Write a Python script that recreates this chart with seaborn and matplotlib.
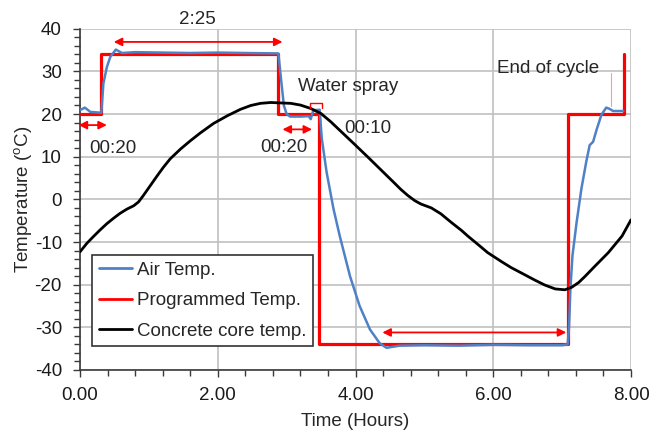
import matplotlib
matplotlib.use("Agg")
import matplotlib.pyplot as plt
import seaborn as sns
import pandas as pd
from matplotlib.ticker import MultipleLocator, FormatStrFormatter

# ---------------- data ----------------
prog_time = [0, 0.30, 0.30, 2.87, 2.87, 3.47, 3.47, 7.08, 7.08, 7.90, 7.90]
prog_temp = [20, 20, 34, 34, 20, 20, -34, -34, 20, 20, 34]

air_time = [0, 0.07, 0.15, 0.31, 0.34, 0.39, 0.44, 0.52, 0.61, 0.8, 1.2, 1.6,
            2.0, 2.4, 2.88, 2.92, 2.96, 3.0, 3.05, 3.2, 3.32, 3.35, 3.38, 3.40,
            3.48, 3.51, 3.58, 3.68, 3.77, 3.92, 4.06, 4.21, 4.35, 4.45, 4.64,
            5.0, 5.5, 6.0, 6.5, 7.0, 7.08, 7.10, 7.12, 7.15, 7.21, 7.28, 7.35,
            7.40, 7.45, 7.50, 7.57, 7.64, 7.69, 7.74, 7.89]
air_temp = [20.9, 21.5, 20.5, 20.3, 27.2, 31.0, 33.4, 35.1, 34.3, 34.5, 34.4, 34.3,
            34.4, 34.3, 34.2, 28.0, 22.0, 20.0, 19.4, 19.4, 19.5, 18.8, 20.5, 20.9,
            21.0, 14.3, 6.4, -2.2, -8.5, -18.0, -25.0, -30.5, -33.7, -34.8, -34.3,
            -34.2, -34.3, -34.1, -34.2, -34.2, -34.0, -30.0, -21.0, -13.2, -5.4, 2.5, 8.8,
            12.7, 13.5, 16.3, 19.8, 21.5, 21.2, 20.7, 20.7]

core_time = [0, 0.10, 0.19, 0.29, 0.39, 0.49, 0.58, 0.68, 0.78, 0.85, 0.92, 1.02,
             1.12, 1.21, 1.31, 1.46, 1.60, 1.75, 1.94, 2.14, 2.33, 2.48, 2.62, 2.77,
             2.91, 3.06, 3.20, 3.35, 3.50, 3.64, 3.79, 3.98, 4.18, 4.37, 4.56, 4.66,
             4.76, 4.86, 4.95, 5.10, 5.24, 5.39, 5.54, 5.63, 5.78, 5.92, 6.12, 6.26,
             6.46, 6.60, 6.75, 6.90, 7.04, 7.14, 7.24, 7.33, 7.48, 7.67, 7.87, 8.0]
core_temp = [-12.3, -10.3, -8.8, -7.2, -5.7, -4.4, -3.3, -2.3, -1.5, -0.6, 0.9, 3.2,
             5.5, 7.5, 9.5, 11.8, 13.7, 15.6, 17.8, 19.6, 21.1, 22.0, 22.5, 22.7,
             22.6, 22.5, 22.1, 21.3, 20.1, 18.2, 15.9, 13.0, 9.9, 6.9, 3.9, 2.3,
             0.9, -0.3, -1.1, -2.0, -3.4, -5.4, -7.3, -8.6, -10.6, -12.5, -14.6, -16.0,
             -17.7, -18.9, -20.1, -21.0, -21.2, -20.6, -19.5, -18.1, -15.6, -12.5, -8.6, -4.8]

series_labels = ["Air Temp.", "Programmed Temp.", "Concrete core temp."]

# ---------------- style ----------------
sns.set_theme(style="ticks")
plt.rcParams["font.family"] = ["Liberation Sans", "DejaVu Sans"]
plt.rcParams["mathtext.fontset"] = "custom"
plt.rcParams["mathtext.rm"] = "Liberation Sans"
plt.rcParams["axes.unicode_minus"] = False
FS = 13.5

fig = plt.figure(figsize=(6.52, 4.36), dpi=100)
ax = fig.add_axes([0.1227, 0.1514, 0.8451, 0.7828])

air_df = pd.DataFrame({"t": air_time, "T": air_temp})
prog_df = pd.DataFrame({"t": prog_time, "T": prog_temp})
core_df = pd.DataFrame({"t": core_time, "T": core_temp})

sns.lineplot(data=air_df, x="t", y="T", ax=ax, color="#4F81C7", lw=1.8,
             sort=False, estimator=None, label=series_labels[0], zorder=4)
sns.lineplot(data=prog_df, x="t", y="T", ax=ax, color="#FF0000", lw=2.3,
             sort=False, estimator=None, label=series_labels[1], zorder=3)
sns.lineplot(data=core_df, x="t", y="T", ax=ax, color="black", lw=2.0,
             sort=False, estimator=None, label=series_labels[2], zorder=5)

ax.set_xlim(0, 8)
ax.set_ylim(-40, 40)
ax.xaxis.set_major_locator(MultipleLocator(2))
ax.xaxis.set_minor_locator(MultipleLocator(0.4))
ax.xaxis.set_major_formatter(FormatStrFormatter("%.2f"))
ax.yaxis.set_major_locator(MultipleLocator(10))
ax.yaxis.set_minor_locator(MultipleLocator(2))
ax.grid(True, which="major", color="#C0C0C0", lw=1.2, zorder=0)
ax.set_axisbelow(True)
for s in ["top", "right"]:
    ax.spines[s].set_visible(False)
for s in ["left", "bottom"]:
    ax.spines[s].set_color("#3a3a3a")
    ax.spines[s].set_linewidth(1.2)
ax.tick_params(which="both", direction="out", color="#3a3a3a", width=1.0,
               labelsize=FS, colors="#1a1a1a")
ax.tick_params(which="major", length=5)
ax.tick_params(which="minor", length=4)
ax.tick_params(axis="x", which="major", pad=7)
ax.tick_params(axis="y", which="major", pad=8)

ax.set_xlabel("Time (Hours)", fontsize=FS, labelpad=7)
ax.set_ylabel("Temperature ($^{\\rm o}$C)", fontsize=FS, labelpad=0)

# annotations: double arrows
def darrow(x0, x1, y):
    ax.annotate("", xy=(x0, y), xytext=(x1, y),
                arrowprops=dict(arrowstyle="<|-|>", color="#FF0000", lw=1.3,
                                mutation_scale=12, shrinkA=0, shrinkB=0),
                annotation_clip=False, zorder=6)

darrow(0.49, 2.94, 36.9)
darrow(-0.02, 0.39, 17.4)
darrow(2.94, 3.37, 16.4)
darrow(4.39, 7.06, -31.2)

ax.text(1.70, 42.2, "2:25", fontsize=FS, ha="center", va="center", clip_on=False)
ax.text(0.48, 11.9, "00:20", fontsize=FS, ha="center", va="center")
ax.text(2.96, 12.2, "00:20", fontsize=FS, ha="center", va="center")
ax.text(4.18, 16.6, "00:10", fontsize=FS, ha="center", va="center")
ax.text(3.90, 26.4, "Water spray", fontsize=FS, ha="center", va="center")
ax.text(6.79, 30.7, "End of cycle", fontsize=FS, ha="center", va="center")

# water spray bracket
ax.plot([3.34, 3.34, 3.51, 3.51], [21.3, 22.6, 22.6, 21.3], color="#FF0000", lw=1.0, zorder=6)
# end of cycle pointer
ax.plot([7.71, 7.71], [21.8, 29.6], color="#FF9A9A", lw=0.8, zorder=6)

leg = ax.legend(loc="upper left", bbox_to_anchor=(0.022, 0.337), borderaxespad=0,
                fontsize=FS, frameon=True, fancybox=False, edgecolor="#333333",
                framealpha=1, handlelength=1.8, handletextpad=0.25,
                labelspacing=0.72, borderpad=0.35)
leg.get_frame().set_linewidth(1.2)
for line in leg.get_lines():
    line.set_linewidth(2.0)

fig.savefig("out.png", dpi=100)
